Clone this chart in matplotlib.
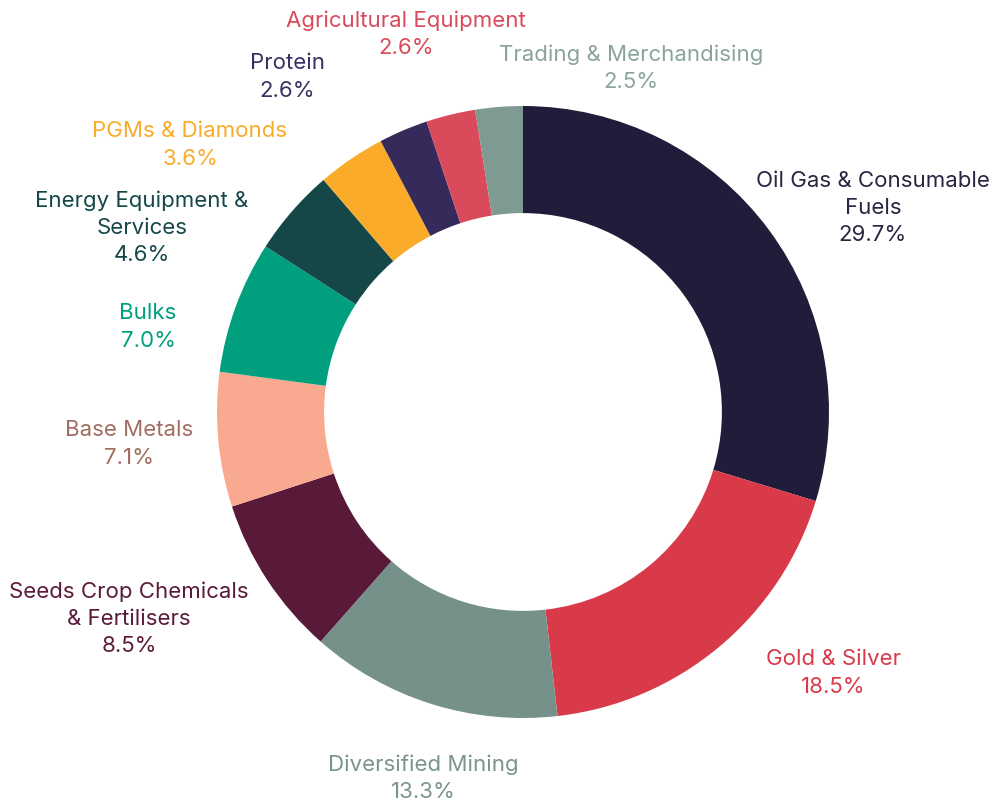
import matplotlib.pyplot as plt

plt.rcParams['font.family'] = ['Inter', 'DejaVu Sans']

sectors = ['Oil Gas & Consumable\nFuels', 'Gold & Silver', 'Diversified Mining',
           'Seeds Crop Chemicals\n& Fertilisers', 'Base Metals', 'Bulks',
           'Energy Equipment &\nServices', 'PGMs & Diamonds', 'Protein',
           'Agricultural Equipment', 'Trading & Merchandising']
shares = [29.7, 18.5, 13.3, 8.5, 7.1, 7.0, 4.6, 3.6, 2.6, 2.6, 2.5]

slice_colors = ['#221c3b', '#d93a49', '#76918a', '#581a38', '#f9a98f', '#00a07e',
                '#154749', '#fbab2a', '#352a5a', '#d94a5a', '#7f9a93']
label_colors = ['#2a2540', '#d93a49', '#7a948e', '#5a1a3a', '#a06e60', '#00a07e',
                '#154749', '#fbab2a', '#3a2f60', '#d94a5a', '#8aa39c']

# label centres in pixel space (origin bottom-left)
label_pos = [(873, 599), (833, 134), (423, 29), (129, 188), (129, 363), (148, 480),
             (142, 579), (190, 662), (287, 730), (406, 773), (631, 739)]

fig = plt.figure(figsize=(9.93, 8.07), dpi=100)
ax = fig.add_axes([0, 0, 1, 1])
ax.set_xlim(0, 993)
ax.set_ylim(0, 807)
ax.set_aspect('equal')
ax.axis('off')

ax.pie(shares, colors=slice_colors, startangle=90, counterclock=False,
       center=(523, 395), radius=306,
       wedgeprops=dict(width=306 * 0.35, edgecolor='none'))

for name, val, col, (x, y) in zip(sectors, shares, label_colors, label_pos):
    ax.text(x, y, f'{name}\n{val:.1f}%', ha='center', va='center', color=col,
            fontsize=16, fontweight='normal', linespacing=1.44)

ax.set_xlim(0, 993)
ax.set_ylim(0, 807)

fig.savefig('out.png', dpi=100)
